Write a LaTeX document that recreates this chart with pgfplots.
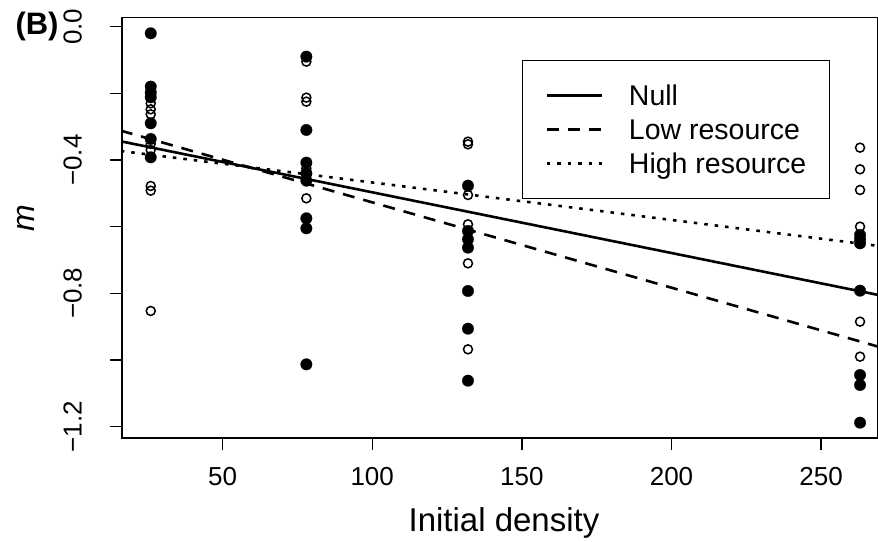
\documentclass[border=0pt]{standalone}
\usepackage{fontspec}
\setmainfont{Liberation Sans}
\usepackage{pgfplots}
\pgfplotsset{compat=1.18}
\begin{document}
\begin{tikzpicture}
\begin{axis}[
  name=a, at={(0,0)}, anchor=south west,
  scale only axis, width=756pt, height=420.7pt,
  xmin=16.4, xmax=269, ymin=-1.234, ymax=0.028,
  axis line style={line width=1.3pt},
  tick align=outside, tick pos=left,
  major tick length=12pt,
  every tick/.style={black, line width=1.3pt},
  xtick={50,100,150,200,250}, xticklabels={50,100,150,200,250},
  ytick={-1.2,-1,-0.8,-0.6,-0.4,-0.2,0}, yticklabels={−1.2,,−0.8,,−0.4,,0.0},
  ticklabel style={font=\fontsize{26}{30}\selectfont},
  xticklabel style={anchor=base},
  yticklabel style={rotate=90, anchor=base},
  xticklabel shift=35.7pt,
  yticklabel shift=28.3pt,
  xlabel={Initial density},
  ylabel={m},
  every axis x label/.style={at={(axis description cs:0.5053,0)}, anchor=base, yshift=-93.7pt, font=\fontsize{33}{36}\selectfont},
  every axis y label/.style={at={(axis description cs:-0.1272,0.523)}, rotate=90, anchor=center, font=\itshape\fontsize{32}{36}\selectfont},
  legend style={at={(axis description cs:0.5287,0.8985)}, anchor=north west, draw=black, line width=1.3pt, fill=white,
    inner xsep=23pt, inner ysep=25pt, row sep=14pt, column sep=26pt,
    font=\fontsize{28.5}{30}\selectfont,
    nodes={inner sep=0pt, text height=20pt, text depth=0pt}},
  legend cell align=left,
  legend image code/.code={\draw[#1] (0pt,0pt) -- (55pt,0pt);},
]
% filled circles
\addplot[only marks, mark=*, mark size=5.8pt, mark options={fill=black, draw=black, line width=0.2pt}, forget plot] coordinates {
(26,-0.020) (26,-0.180) (26,-0.198) (26,-0.212) (26,-0.290) (26,-0.337) (26,-0.392)
(78,-0.090) (78,-0.310) (78,-0.408) (78,-0.440) (78,-0.462) (78,-0.575) (78,-0.605) (78,-1.013)
(132,-0.477) (132,-0.613) (132,-0.638) (132,-0.663) (132,-0.793) (132,-0.906) (132,-1.062)
(263,-0.625) (263,-0.638) (263,-0.650) (263,-0.792) (263,-1.045) (263,-1.075) (263,-1.188)
};
% open circles
\addplot[only marks, mark=o, mark size=4.5pt, mark options={draw=black, fill=none, line width=1.5pt}, forget plot] coordinates {
(26,-0.230) (26,-0.248) (26,-0.263) (26,-0.352) (26,-0.370) (26,-0.478) (26,-0.492) (26,-0.853)
(78,-0.105) (78,-0.213) (78,-0.225) (78,-0.425) (78,-0.515)
(132,-0.345) (132,-0.353) (132,-0.505) (132,-0.593) (132,-0.710) (132,-0.968)
(263,-0.363) (263,-0.428) (263,-0.490) (263,-0.600) (263,-0.885) (263,-0.990)
};
\addplot[black, line width=2.6pt] coordinates {(16,-0.344) (273,-0.812)};
\addlegendentry{Null}
\addplot[black, line width=2.6pt, dash pattern=on 12pt off 9pt] coordinates {(16,-0.312) (273,-0.970)};
\addlegendentry{Low resource}
\addplot[black, line width=2.6pt, dash pattern=on 3.5pt off 7pt] coordinates {(16,-0.373) (273,-0.662)};
\addlegendentry{High resource}
\end{axis}
\node[anchor=base west, font=\bfseries\fontsize{31}{34}\selectfont] at (-110pt,403pt) {(B)};
\pgfresetboundingbox
\path (-122pt,-103pt) rectangle (756pt,438pt);
\end{tikzpicture}
\end{document}
